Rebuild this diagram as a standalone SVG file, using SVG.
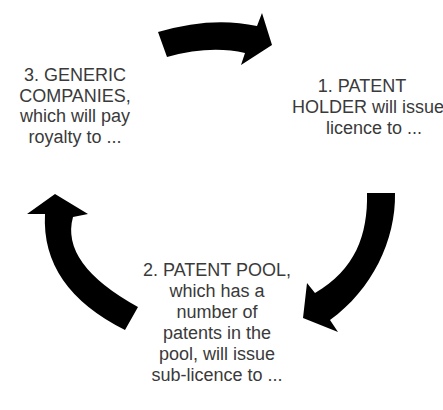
<svg xmlns="http://www.w3.org/2000/svg" width="443" height="410" viewBox="0 0 443 410">
<style>
.lbl{font-family:"Liberation Sans",Arial,sans-serif;font-size:18px;fill:#3a3a3a;text-anchor:middle}
.arr{fill:#000}
</style>
<rect width="443" height="410" fill="#fff"/>
<g id="connectors">
<path class="arr" d="M158,32 Q212,16 257,26 L262,13 L272,45 L241,65 L245,53 Q210,45 167,57 Z"/>
<path class="arr" d="M367,193 L395,193 C396,240 372,290 330,320 L338,332 L303,318 L307,283 L315,293 C355,270 368,235 367,193 Z"/>
<path class="arr" d="M138,307 Q60,264 73,217 L88,214 L55,194 L27,214 L45,214 Q41,288 125,330 Z"/>
</g>
<g id="node1">
<text class="lbl" x="362" y="92">1. PATENT</text>
<text class="lbl" x="368" y="113">HOLDER will issue</text>
<text class="lbl" x="374" y="134">licence to ...</text>
</g>
<g id="node2">
<text class="lbl" x="217" y="276">2. PATENT POOL,</text>
<text class="lbl" x="217" y="297">which has a</text>
<text class="lbl" x="217" y="318">number of</text>
<text class="lbl" x="217" y="339">patents in the</text>
<text class="lbl" x="217" y="360">pool, will issue</text>
<text class="lbl" x="217" y="381">sub-licence to ...</text>
</g>
<g id="node3">
<text class="lbl" x="75" y="81">3. GENERIC</text>
<text class="lbl" x="75" y="102">COMPANIES,</text>
<text class="lbl" x="75" y="122">which will pay</text>
<text class="lbl" x="75" y="143">royalty to ...</text>
</g>
</svg>
